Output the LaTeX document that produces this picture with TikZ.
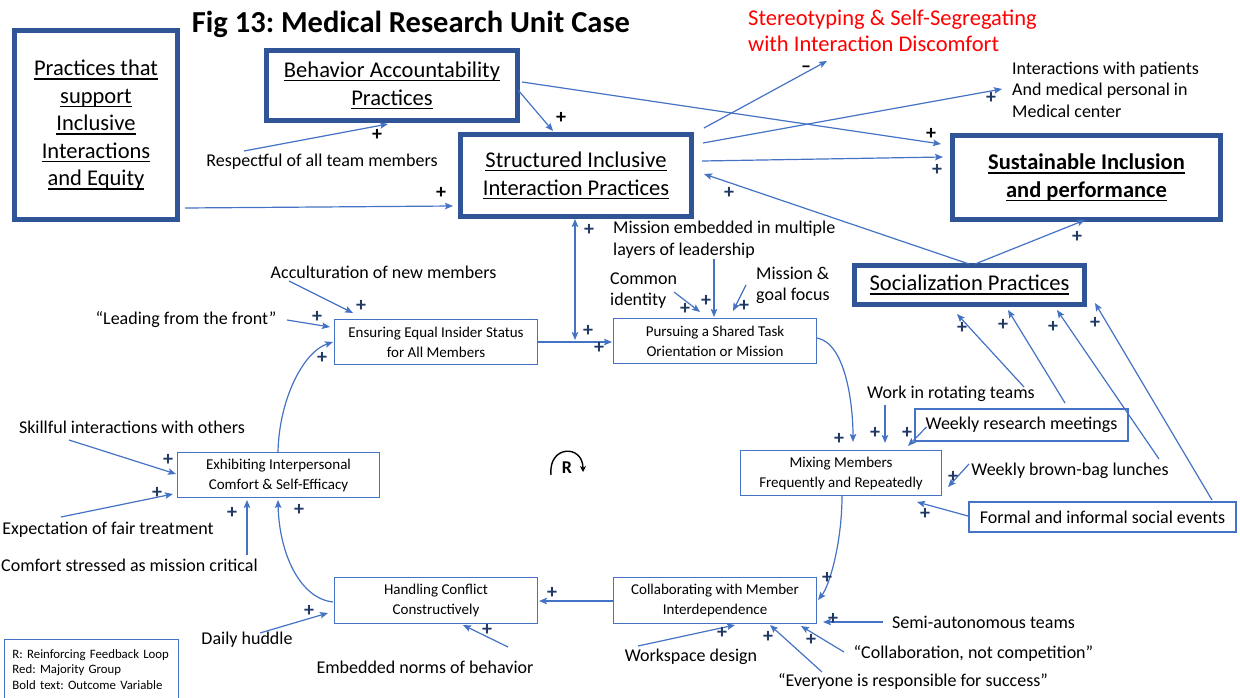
\documentclass[tikz,border=0pt]{standalone}
\usepackage{fontspec}
\setmainfont{Carlito}
\usetikzlibrary{arrows.meta}
\frenchspacing

\definecolor{arrblue}{HTML}{4472C4}
\definecolor{frameblue}{HTML}{2F5597}
\definecolor{plusnavy}{HTML}{203864}
\definecolor{majred}{HTML}{FF0000}

\newcommand{\fs}[2]{\fontsize{#1}{#2}\selectfont}
% underline drawn as a rule a fixed distance below the baseline
\newcommand{\uln}[1]{\leavevmode\sbox0{#1}\rlap{\rule[-0.17em]{\wd0}{1.3pt}}\usebox0}

\tikzset{
  frame/.style={draw=frameblue, line width=5pt, align=center, inner sep=0pt, font=\fs{22.5}{27.5}},
  stage/.style={draw=arrblue, line width=1.3pt, align=center, inner sep=0pt, font=\fs{15}{20}},
  lbl/.style={inner sep=0pt, font=\fs{18}{21.5}},
  pl/.style={inner sep=0pt, text=plusnavy, font=\fs{20}{20}\bfseries},
  plk/.style={pl, text=black},
  tip/.tip={Stealth[length=8pt,width=6.5pt,inset=1.5pt]},
  arr/.style={draw=arrblue, line width=1.2pt, -tip},
  arrboth/.style={draw=arrblue, line width=1.2pt, tip-tip},
}

\begin{document}
\begin{tikzpicture}[x=1pt,y=-1pt]
\useasboundingbox (0,0) rectangle (1240,698);

% heading
\node[inner sep=0pt, font=\fs{30.5}{36}\bfseries] (title) at (411,24) {Fig 13: Medical Research Unit Case};

% framed practice blocks
\node[frame, minimum width=163pt, minimum height=189pt] (prac) at (96,125)
  {\uln{Practices that}\\\uln{support}\\\uln{Inclusive}\\\uln{Interactions}\\\uln{and Equity}};
\node[frame, minimum width=251pt, minimum height=70pt] (beh) at (392,85.5)
  {\uln{Behavior Accountability}\\\uln{Practices}};
\node[frame, minimum width=231pt, minimum height=82pt] (sii) at (576,175.5)
  {\uln{Structured Inclusive}\\\uln{Interaction Practices}};
\node[frame, minimum width=268pt, minimum height=84pt, font=\fs{22.5}{27.5}\bfseries] (sus) at (1086.5,177.5)
  {\uln{Sustainable Inclusion}\\\uln{and performance}};
\node[frame, minimum width=230pt, minimum height=39pt] (soc) at (969.5,285)
  {\uln{Socialization Practices}};

% loop stages
\node[stage, minimum width=203pt, minimum height=45pt] (ens) at (436,342) {Ensuring Equal Insider Status\\for All Members};
\node[stage, minimum width=203pt, minimum height=45pt] (pur) at (715,341) {Pursuing a Shared Task\\Orientation or Mission};
\node[stage, minimum width=201pt, minimum height=45pt] (mix) at (841,473) {Mixing Members\\Frequently and Repeatedly};
\node[stage, minimum width=203pt, minimum height=46pt] (col) at (715,600.5) {Collaborating with Member\\Interdependence};
\node[stage, minimum width=203pt, minimum height=46pt] (han) at (436,600.5) {Handling Conflict\\Constructively};
\node[stage, minimum width=202pt, minimum height=45pt] (exh) at (278.5,475) {Exhibiting Interpersonal\\Comfort \& Self-Efficacy};

% side labels
\node[lbl] (resp) at (322,162) {Respectful of all team members};
\node[lbl] (accu) at (383.5,272) {Acculturation of new members};
\node[lbl] (lead) at (186,320) {“Leading from the front”};
\node[lbl] (skil) at (132,427) {Skillful interactions with others};
\node[lbl] (expe) at (108,530) {Expectation of fair treatment};
\node[lbl] (comf) at (129.5,565) {Comfort stressed as mission critical};
\node[lbl] (dail) at (247,640) {Daily huddle};
\node[lbl] (embn) at (425,667) {Embedded norms of behavior};
\node[lbl] (work) at (691,657) {Workspace design};
\node[lbl] (ever) at (913,681) {“Everyone is responsible for success”};
\node[lbl] (coll) at (973.5,653) {“Collaboration, not competition”};
\node[lbl] (semi) at (983.5,622) {Semi-autonomous teams};
\node[lbl] (brow) at (1070,471) {Weekly brown-bag lunches};
\node[lbl] (rota) at (951,394) {Work in rotating teams};
\node[lbl, draw=arrblue, line width=1.2pt, minimum width=213pt, minimum height=32pt] (wrm) at (1021.5,425) {Weekly research meetings};
\node[lbl, draw=arrblue, line width=1.2pt, minimum width=267pt, minimum height=30pt] (fis) at (1102.5,517) {Formal and informal social events};
\node[lbl, anchor=west, align=left] (mlead) at (613,239.5) {Mission embedded in multiple\\layers of leadership};
\node[lbl, anchor=west, align=left] (cide) at (610,290.5) {Common\\identity};
\node[lbl, anchor=west, align=left] (mgoa) at (756,285.5) {Mission \&\\goal focus};
\node[lbl, anchor=west, align=left] (ipat) at (1012,89.5) {Interactions with patients\\And medical personal in\\Medical center};
\node[lbl, anchor=west, align=left, text=majred, font=\fs{22.5}{26}] (ster) at (748,31) {Stereotyping \& Self-Segregating\\with Interaction Discomfort};

% legend
\node[draw=arrblue, line width=1pt, anchor=north west, minimum width=174pt, minimum height=60pt,
      text width=158pt, inner xsep=8pt, inner ysep=0pt, align=left, font=\fs{12.8}{15.5}] (leg) at (4,639)
  {R: Reinforcing Feedback Loop\\Red: Majority Group\\Bold text: Outcome Variable};

% reinforcing loop marker
\node[inner sep=0pt, font=\fs{18}{18}\bfseries] (rlab) at (567,468) {R};
\draw[line width=1.4pt, -{Stealth[length=6pt,width=6pt]}] ([shift={(-16,7)}]rlab.center)
  .. controls +(-3,-30) and +(0,-28) .. ([shift={(16,4)}]rlab.center);

% links among the framed blocks
\draw[arr] ([shift={(89,83)}]prac.center) -- ([shift={(-123,30.5)}]sii.center);
\draw[arr] ([shift={(126,4.5)}]beh.center) -- ([shift={(-23,-44.5)}]sii.center);
\draw[arr] ([shift={(-78,-11)}]resp.center) -- ([shift={(-4,38.5)}]beh.center);
\draw[arr] ([shift={(130,-3.5)}]beh.center) -- ([shift={(-145.5,-33.5)}]sus.center);
\draw[arr] ([shift={(128,-47.5)}]sii.center) -- ([shift={(79,30)}]ster.west);
\draw[arr] ([shift={(127,-32.5)}]sii.center) -- ([shift={(-10,-0.5)}]ipat.west);
\draw[arr] ([shift={(126,-14.5)}]sii.center) -- ([shift={(-143.5,-20.5)}]sus.center);
\draw[arr] ([shift={(-0.5,-21)}]soc.center) -- ([shift={(128,-1.5)}]sii.center);
\draw[arr] ([shift={(5.5,-21)}]soc.center) -- ([shift={(-1.5,42.5)}]sus.center);
\draw[arrboth] ([shift={(-1,43.5)}]sii.center) -- ([shift={(-140,-1)}]pur.center);

% the loop
\draw[arr] ([shift={(102,0)}]ens.center) -- ([shift={(-103,1)}]pur.center);
\draw[arr] ([shift={(102,-3)}]pur.center) .. controls +(28,5) and +(0,-40) .. ([shift={(12,-31)}]mix.center);
\draw[arr] ([shift={(1,23)}]mix.center) .. controls +(0,45) and +(12,-15) .. ([shift={(103,-0.5)}]col.center);
\draw[arr] ([shift={(-102,0.5)}]col.center) -- ([shift={(103,0.5)}]han.center);
\draw[arr] ([shift={(-103,1.5)}]han.center) .. controls +(-35,-4) and +(1,50) .. ([shift={(-0.5,25)}]exh.center);
\draw[arr] ([shift={(-0.5,-23)}]exh.center) .. controls +(1,-52) and +(-30,10) .. ([shift={(-103,0)}]ens.center);

% inputs to the stages
\draw[arr] ([shift={(-94.5,9)}]accu.center) -- ([shift={(-83,-29)}]ens.center);
\draw[arr] ([shift={(101,0)}]lead.center) -- ([shift={(-106,-15)}]ens.center);
\draw[arr] ([shift={(64,1.5)}]cide.west) -- ([shift={(-15,-29)}]pur.center);
\draw[arr] ([shift={(101,19.5)}]mlead.west) -- ([shift={(-1,-24)}]pur.center);
\draw[arr] ([shift={(-10,-0.5)}]mgoa.west) -- ([shift={(18,-30)}]pur.center);
\draw[arr] ([shift={(-66,11)}]rota.center) -- ([shift={(44,-30)}]mix.center);
\draw[arr] ([shift={(-95,2)}]wrm.center) -- ([shift={(67,-27)}]mix.center);
\draw[arr] ([shift={(-101,-7)}]brow.center) -- ([shift={(107,14)}]mix.center);
\draw[arr] ([shift={(-134.5,-1)}]fis.center) -- ([shift={(76,29)}]mix.center);
\draw[arr] ([shift={(73,-7)}]rota.center) -- ([shift={(-12.5,29)}]soc.center);
\draw[arr] ([shift={(43.5,-22)}]wrm.center) -- ([shift={(38.5,25)}]soc.center);
\draw[arr] ([shift={(89,-12)}]brow.center) -- ([shift={(87.5,25)}]soc.center);
\draw[arr] ([shift={(109.5,-17)}]fis.center) -- ([shift={(125.5,18)}]soc.center);
\draw[arr] ([shift={(-100.5,0)}]semi.center) -- ([shift={(108,21.5)}]col.center);
\draw[arr] ([shift={(-129.5,-1)}]coll.center) -- ([shift={(86,25.5)}]col.center);
\draw[arr] ([shift={(-91,-9)}]ever.center) -- ([shift={(55,24.5)}]col.center);
\draw[arr] ([shift={(-53,-11)}]work.center) -- ([shift={(20,24.5)}]col.center);
\draw[arr] ([shift={(83,-20)}]embn.center) -- ([shift={(27,24.5)}]han.center);
\draw[arr] ([shift={(13,-7)}]dail.center) -- ([shift={(-108,12.5)}]han.center);
\draw[arr] ([shift={(-63,13)}]skil.center) -- ([shift={(-102.5,-1)}]exh.center);
\draw[arr] ([shift={(-47,-13)}]expe.center) -- ([shift={(-105.5,19)}]exh.center);
\draw[arr] ([shift={(117.5,-10)}]comf.center) -- ([shift={(-31.5,25)}]exh.center);

% polarity signs
\foreach \px/\py [count=\i] in {561/118, 377/135, 931/134, 441/193}
  \node[plk] (pk\i) at (\px,\py) {+};
\node[plk, anchor=base] (minus) at (806,73) {–};
\foreach \px/\py [count=\i] in {991/98, 937/170, 729/193, 1077/237, 589/230, 588/331, 599/348,
    361/306, 317/317, 322/358, 839/439, 875/433, 907/433, 953/477, 925/514, 962/328, 1003/325,
    1053/327, 1095/323, 827/578, 833/619, 811/640, 768/637, 722/633, 552/593, 487/630, 309/611,
    299/510, 168/460, 157/493, 232/513, 685/309, 706/301, 744/306}
  \node[pl] (pn\i) at (\px,\py) {+};
\end{tikzpicture}
\end{document}
